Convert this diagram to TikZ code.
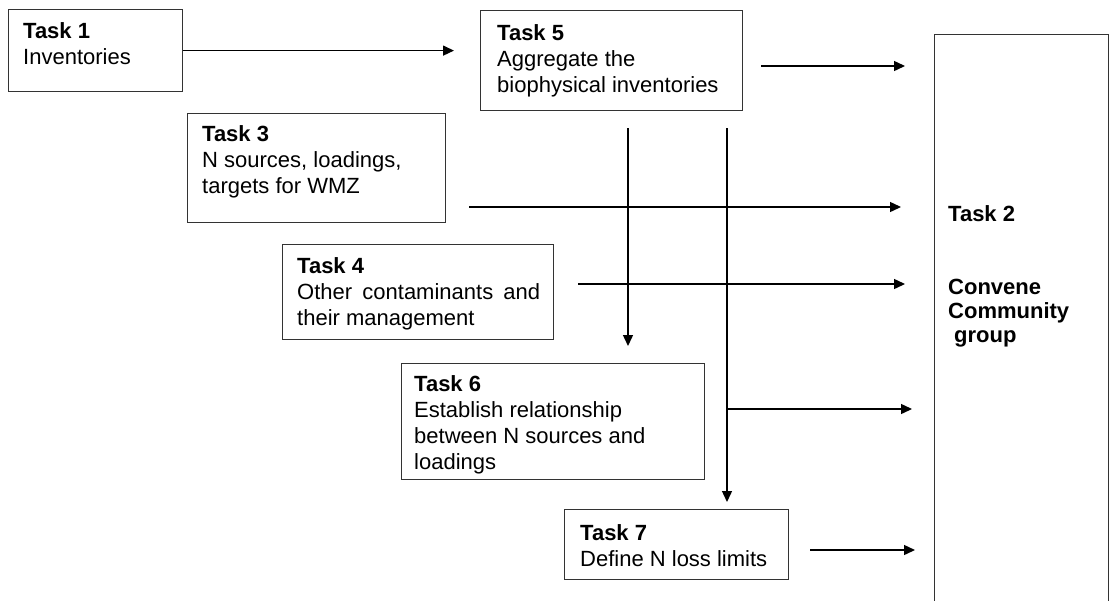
\documentclass[tikz,border=0pt]{standalone}
\usepackage{fontspec}
\setmainfont{Liberation Sans}
\usetikzlibrary{arrows.meta,calc}
\begin{document}
\begin{tikzpicture}[x=1pt,y=-1pt,
  box/.style={draw=black!80,line width=1.2pt,rectangle,inner sep=0pt,anchor=north west},
  txt/.style={anchor=north west,inner sep=0pt,align=left,font=\fontsize{22}{26}\selectfont},
  arr/.style={line width=1.4pt,-{Triangle[length=11pt,width=10pt]}},
  ln/.style={line width=1.4pt}]
\useasboundingbox (0,0) rectangle (1110,600);
% boxes
\node[box,minimum width=174pt,minimum height=82pt] (t1) at (8,9) {};
\node[box,minimum width=262pt,minimum height=100pt] (t5) at (480,10) {};
\node[box,minimum width=258pt,minimum height=109pt] (t3) at (187,113) {};
\node[box,minimum width=271pt,minimum height=95pt] (t4) at (282,244) {};
\node[box,minimum width=303pt,minimum height=116pt] (t6) at (401,363) {};
\node[box,minimum width=224pt,minimum height=70pt] (t7) at (564,509) {};
\node[box,minimum width=174pt,minimum height=590pt] (t2) at (934,34) {};
% texts
\node[txt] (t1l) at ($(t1.north west)+(15,13)$) {\textbf{Task 1}\\Inventories};
\node[txt] (t5l) at ($(t5.north west)+(17,14)$) {\textbf{Task 5}\\Aggregate the\\biophysical inventories};
\node[txt] (t3l) at ($(t3.north west)+(15,12)$) {\textbf{Task 3}\\N sources, loadings,\\targets for WMZ};
\node[txt] (t4l) at ($(t4.north west)+(15,13)$) {\textbf{Task 4}\\\makebox[243pt][s]{Other contaminants and}\\their management};
\node[txt] (t6l) at ($(t6.north west)+(13,12)$) {\textbf{Task 6}\\Establish relationship\\between N sources and\\loadings};
\node[txt] (t7l) at ($(t7.north west)+(16,15)$) {\textbf{Task 7}\\Define N loss limits};
\node[txt] (t2l) at ($(t2.north west)+(14,171)$) {\textbf{Task 2}};
\node[txt,font=\fontsize{22}{24}\selectfont\bfseries] (t2m) at ($(t2.north west)+(14,245)$) {Convene\\Community\\\hspace*{6pt}group};
% connectors
\coordinate (a1) at (454,0);
\draw[arr] (t1.east) -- (a1 |- t1.east);
\coordinate (s5) at (761,66); \coordinate (e5) at (905,66);
\draw[arr] (s5) -- (e5);
\coordinate (v1) at (628,128); \coordinate (v2) at (727,128);
\draw[arr] (v1) -- ($(v1 |- t6.north)+(0,-17)$);
\draw[arr] (v2) -- ($(v2 |- t7.north)+(0,-7)$);
\coordinate (s3) at (469,207); \coordinate (e3) at (901,207);
\draw[arr] (s3) -- (e3);
\coordinate (s4) at (578,284); \coordinate (e4) at (905,284);
\draw[arr] (s4) -- (e4);
\coordinate (j6) at (727,409); \coordinate (e6) at (912,409);
\draw[arr] (j6) -- (e6);
\coordinate (s7) at (810,550); \coordinate (e7) at (915,550);
\draw[arr] (s7) -- (e7);
\end{tikzpicture}
\end{document}
